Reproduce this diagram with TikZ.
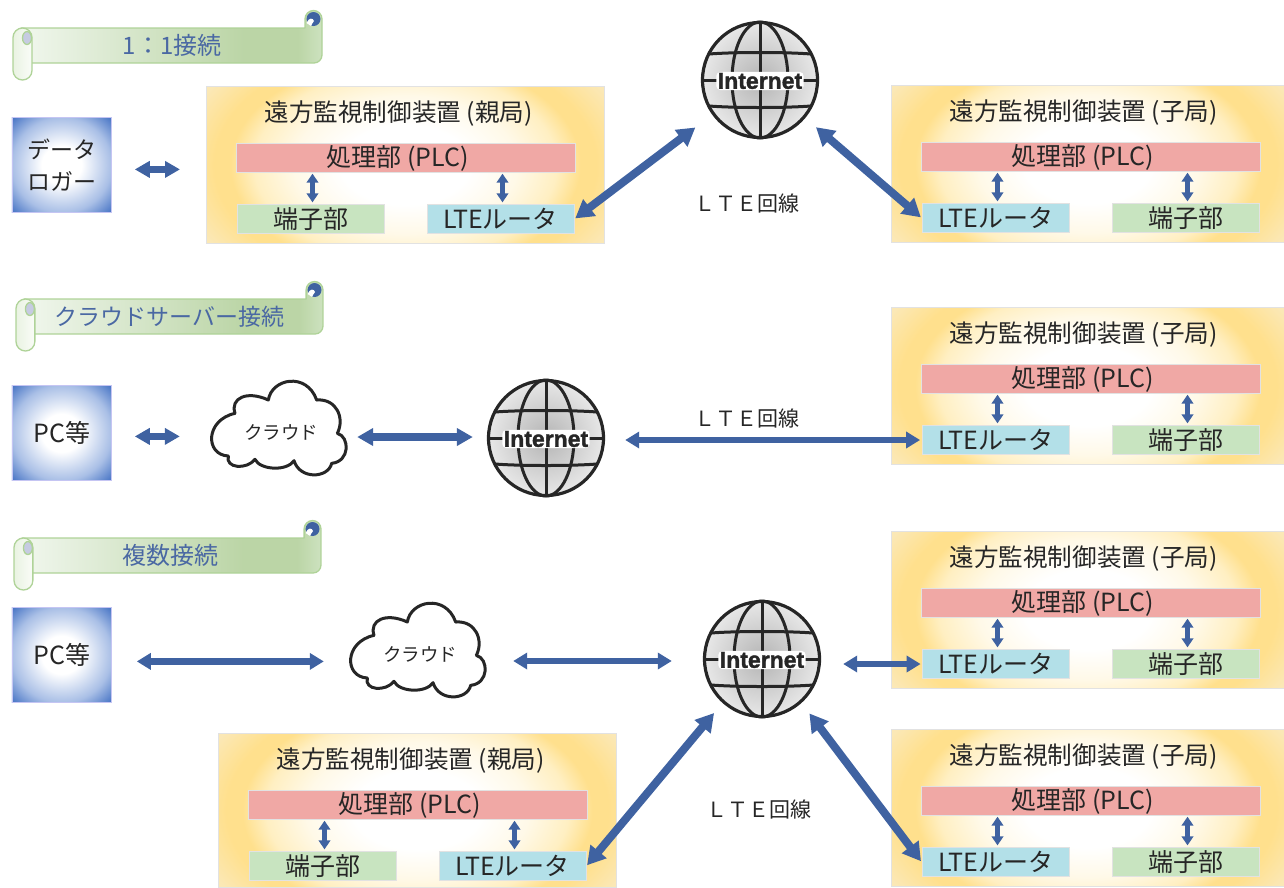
\documentclass[tikz,border=0pt]{standalone}
\usepackage{fontspec}
\setmainfont{Noto Sans CJK JP}
\newfontfamily\latinbold[BoldFont={Liberation Sans Bold},BoldFeatures={FakeBold=1.5}]{Liberation Sans}
\usetikzlibrary{arrows.meta,calc}
\definecolor{arrowblue}{HTML}{3F62A1}
\definecolor{inkdark}{HTML}{262626}
\definecolor{titleblue}{HTML}{4A68A3}
\definecolor{plcred}{HTML}{F0A8A5}
\definecolor{lteblue}{HTML}{B3E0E8}
\definecolor{termgreen}{HTML}{C8E4C0}
\definecolor{edgegrey}{HTML}{E2E2E2}
\definecolor{scrollline}{HTML}{AFD398}
\definecolor{ovallav}{HTML}{C6CBE2}
\definecolor{panA}{HTML}{FFFFFF}
\definecolor{panB}{HTML}{FFF9E8}
\definecolor{panC}{HTML}{FFEFC2}
\definecolor{panD}{HTML}{FFE08D}
\definecolor{panE}{HTML}{FBE8B6}
\definecolor{bluA}{HTML}{FFFFFF}
\definecolor{bluB}{HTML}{A9BFE6}
\definecolor{bluC}{HTML}{4472C4}
\definecolor{barA}{HTML}{F1F7EE}
\definecolor{barB}{HTML}{BBD5A6}
\definecolor{barC}{HTML}{CDE2BF}
\definecolor{rollA}{HTML}{E9F3E2}
\definecolor{rollB}{HTML}{FAFCF8}
\definecolor{gloA}{HTML}{B4B4B4}
\definecolor{gloB}{HTML}{E8E8E8}
\pgfdeclareradialshading{panelglow}{\pgfpoint{0bp}{0bp}}{%
  color(0bp)=(panA); color(8bp)=(panA); color(14bp)=(panB); color(19bp)=(panC); color(22bp)=(panD); color(24bp)=(panD); color(29bp)=(panE); color(50bp)=(panE)}
\pgfdeclareradialshading{boxglow}{\pgfpoint{0bp}{0bp}}{%
  color(0bp)=(bluA); color(10bp)=(bluA); color(25bp)=(bluB); color(35.4bp)=(bluC); color(50bp)=(bluC)}
\pgfdeclareradialshading{globeglow}{\pgfpoint{0bp}{0bp}}{%
  color(0bp)=(gloA); color(25bp)=(gloB); color(50bp)=(gloB)}
\pgfdeclarehorizontalshading{scrollbar}{100bp}{%
  color(0bp)=(barA); color(25bp)=(barA); color(62bp)=(barB); color(71bp)=(barB); color(75bp)=(barC); color(100bp)=(barC)}
\pgfdeclarehorizontalshading{scrollroll}{100bp}{%
  color(0bp)=(rollA); color(25bp)=(rollA); color(75bp)=(rollB); color(100bp)=(rollB)}
\tikzset{
  txt/.style={inner sep=0pt,text=inkdark,font=\fontsize{24.6}{28}\selectfont},
  bartxt/.style={inner sep=0pt,text=titleblue,font=\fontsize{24}{28}\selectfont},
  part/.style={draw=edgegrey,line width=.8pt,inner sep=0pt,minimum height=28.5pt,text=inkdark,font=\fontsize{25}{28}\selectfont},
  panelbox/.style={draw=edgegrey,line width=.8pt,inner sep=0pt,anchor=north west,
    path picture={\shade[shading=panelglow]
      ([yshift=-45pt]path picture bounding box.south west) rectangle ([yshift=45pt]path picture bounding box.north east);}},
  bluebox/.style={draw=edgegrey!70!blue!60,line width=.8pt,shading=boxglow,inner sep=0pt,anchor=north west,minimum width=99.5pt,minimum height=95pt,
    align=center,text=inkdark,font=\fontsize{23}{32}\selectfont},
  tinybi/.style={arrowblue,line width=5pt,{Triangle[length=9pt,width=11.5pt]}-{Triangle[length=9pt,width=11.5pt]},shorten <=2pt,shorten >=1pt},
  shortbi/.style={arrowblue,line width=7pt,{Triangle[length=15pt,width=16pt]}-{Triangle[length=15pt,width=16pt]}},
  longbi/.style={arrowblue,line width=6.5pt,{Triangle[length=14pt,width=16pt]}-{Triangle[length=14pt,width=16pt]}},
  fatbi/.style={arrowblue,line width=8.5pt,{Triangle[length=16pt,width=17pt]}-{Triangle[length=16pt,width=17pt]}},
  diagbi/.style={arrowblue,line width=8pt,{Triangle[length=18pt,width=20pt]}-{Triangle[length=18pt,width=20pt]}},
  globenode/.style={circle,minimum size=116pt,inner sep=0pt,shading=globeglow},
  globeline/.style={line width=3pt,draw=black!85},
  cloudline/.style={line width=3pt,draw=black!85,line join=round,fill=white},
  cloudnode/.style={inner sep=0pt,minimum width=134pt,minimum height=80pt,text=inkdark,font=\fontsize{18.5}{22}\selectfont},
  scrollpath/.style={draw=scrollline,line width=1.3pt,line join=round}
}
% #1 name, #2 x, #3 y, #4 title, #5 left colour, #6 left text, #7 right colour, #8 right text, #9 width
\newcommand{\devpanel}[9]{%
  \begin{scope}[shift={(#2,#3)}]
    \node[panelbox,minimum width=#9pt,minimum height=\panelh pt] (#1box) at (0,0) {};
    \node[txt] (#1title) at (192.5,27.5) {#4};
    \node[part,fill=plcred,minimum width=339pt] (#1plc) at (199.5,72) {処理部 (PLC)\hspace*{16pt}};
    \node[part,fill=#5,minimum width=147pt] (#1left) at (104.5,133) {#6};
    \node[part,fill=#7,minimum width=147pt] (#1right) at (294.5,133) {#8};
    \draw[tinybi] ([xshift=2pt]#1left.north) -- ([xshift=2pt]#1left.north |- #1plc.south);
    \draw[tinybi] ([xshift=2pt]#1right.north) -- ([xshift=2pt]#1right.north |- #1plc.south);
  \end{scope}}
\newcommand{\panelh}{157}
\newcommand{\parentpanel}[4]{\renewcommand{\panelh}{#4}\devpanel{#1}{#2}{#3}{遠方監視制御装置 (親局)}{termgreen}{端子部}{lteblue}{LTEルータ}{398}}
\newcommand{\childpanel}[3]{\renewcommand{\panelh}{157}\devpanel{#1}{#2}{#3}{遠方監視制御装置 (子局)}{lteblue}{LTEルータ}{termgreen}{端子部}{393}}
% #1 name, #2 x, #3 y
\newcommand{\globeicon}[3]{%
  \node[globenode] (#1) at (#2,#3) {};
  \begin{scope}[shift={(#2,#3)}]
    \draw[globeline] (0,-58) -- (0,58);
    \draw[globeline] (0,0) ellipse [x radius=28,y radius=58];
    \draw[globeline] (-51,-26) .. controls (-25,-28) and (25,-28) .. (51,-26);
    \draw[globeline] (-51,26) .. controls (-25,28) and (25,28) .. (51,26);
    \draw[globeline] (-58,0) -- (58,0);
    \draw[line width=3.2pt,draw=black!85] (0,0) circle [radius=57.5];
  \end{scope}
  \node[fill=white,rounded corners=4pt,inner xsep=1.5pt,inner ysep=1pt,font=\latinbold\bfseries\fontsize{23}{24}\selectfont,text=black!85] (#1txt) at (#2,#3+1) {Internet};}
% #1 name, #2 x, #3 y
\newcommand{\cloudicon}[3]{%
  \begin{scope}[shift={(#2,#3)},shift={(-81,-62)},scale=1/3]
    \draw[cloudline] (105,130) .. controls (90,85) and (140,60) .. (205,90)
      .. controls (215,25) and (320,5) .. (350,90)
      .. controls (410,85) and (435,145) .. (412,190)
      .. controls (450,200) and (450,275) .. (395,280)
      .. controls (385,325) and (300,330) .. (282,272)
      .. controls (260,305) and (180,300) .. (165,268)
      .. controls (140,300) and (75,295) .. (85,258)
      .. controls (15,255) and (15,150) .. cycle;
  \end{scope}
  \node[cloudnode] (#1) at (#2,#3) {クラウド};}
% #1 name, #2 x, #3 y, #4 text x, #5 text, #6 xscale
\newcommand{\scrollbanner}[6]{%
  \begin{scope}[shift={(#2,#3)}]
    \begin{scope}[xscale=#6]
    \draw[scrollpath,shading=scrollbar,shade] (8,18) -- (292,18) -- (292,9) arc (180:360:8.5) -- (309,45) arc (0:90:8) -- (8,53) -- cycle;
    \fill[arrowblue] (300.5,9) circle [radius=7];
    \fill[white] (293.5,13) .. controls (296,7) and (300,8) .. (301,11) .. controls (301,13) and (298,13) .. (298,16) -- cycle;
    \draw[scrollpath,shading=scrollroll,shade] (0,27.5) arc (180:360:9.5) -- (19,60.5) arc (0:180:9.5) -- cycle;
    \draw[scrollpath,fill=ovallav] (14,28) ellipse [x radius=4.5,y radius=6.5];
    \end{scope}
    \node[bartxt] (#1) at (#4,35.5) {#5};
  \end{scope}}
\begin{document}
\begin{tikzpicture}[x=1pt,y=-1pt]
\useasboundingbox (0,0) rectangle (1284,887);
% banners
\scrollbanner{ban1}{13}{10}{159}{1：1接続}{1}
\scrollbanner{ban2}{16}{281}{153.5}{\fontsize{23}{28}\selectfont クラウドサーバー接続}{0.9935}
\scrollbanner{ban3}{14}{520}{156}{複数接続}{0.9935}
% boxes
\node[bluebox] (logger) at (11.5,117) {データ\\ロガー};
\node[bluebox,font=\fontsize{25}{30}\selectfont] (pc2) at (11.5,385) {PC等};
\node[bluebox,font=\fontsize{25}{30}\selectfont] (pc3) at (11.5,607) {PC等};
% panels
\parentpanel{a}{206}{86}{157}
\childpanel{b}{891}{85}
\childpanel{c}{891}{307}
\childpanel{d}{891}{531}
\childpanel{e}{891}{729}
\parentpanel{f}{218}{733}{154}
% globes and clouds
\globeicon{g1}{760}{80}
\globeicon{g2}{546}{438}
\globeicon{g3}{762}{659}
\cloudicon{cl2}{281}{432}
\cloudicon{cl3}{420}{654}
% line labels
\node[txt,font=\fontsize{21}{24}\selectfont] (lab1) at (747,204) {ＬＴＥ回線};
\node[txt,font=\fontsize{21}{24}\selectfont] (lab2) at (747,418) {ＬＴＥ回線};
\node[txt,font=\fontsize{21}{24}\selectfont] (lab3) at (759,809) {ＬＴＥ回線};
% connectors
\draw[shortbi,shorten <=23pt,shorten >=26pt] ([yshift=-4.5pt]logger.east) -- ([yshift=-4.5pt]logger.east -| abox.west);
\draw[diagbi,shorten >=22pt,shorten <=1pt] (aright.east) -- (g1.216);
\draw[diagbi,shorten <=15pt,shorten >=1pt] (g1.320) -- (bleft.west);
\draw[shortbi,shorten <=23pt,shorten >=34pt] ([yshift=-3.5pt]pc2.east) -- ([yshift=-3.5pt]pc2.east -| cl2.west);
\draw[fatbi,shorten <=9pt,shorten >=15pt] ([yshift=-5pt]cl2.east) -- ([yshift=-5pt]cl2.east -| g2.west);
\draw[longbi,shorten <=21pt,shorten >=1.5pt] ([yshift=-2pt]g2.east) -- (cleft.west);
\draw[longbi,shorten <=25pt,shorten >=29pt] ([yshift=-6.5pt]pc3.east) -- ([yshift=-6.5pt]pc3.east -| cl3.west);
\draw[longbi,shorten <=26pt,shorten >=32pt] ([yshift=-7pt]cl3.east) -- ([yshift=-7pt]cl3.east -| g3.west);
\draw[longbi,shorten <=23pt,shorten >=1pt] ([yshift=-5pt]g3.east) -- (dleft.west);
\draw[diagbi,shorten <=14pt,shorten >=1pt] (g3.228) -- (fright.east);
\draw[diagbi,shorten <=14pt,shorten >=1pt] (g3.312) -- (eleft.west);
\end{tikzpicture}
\end{document}
